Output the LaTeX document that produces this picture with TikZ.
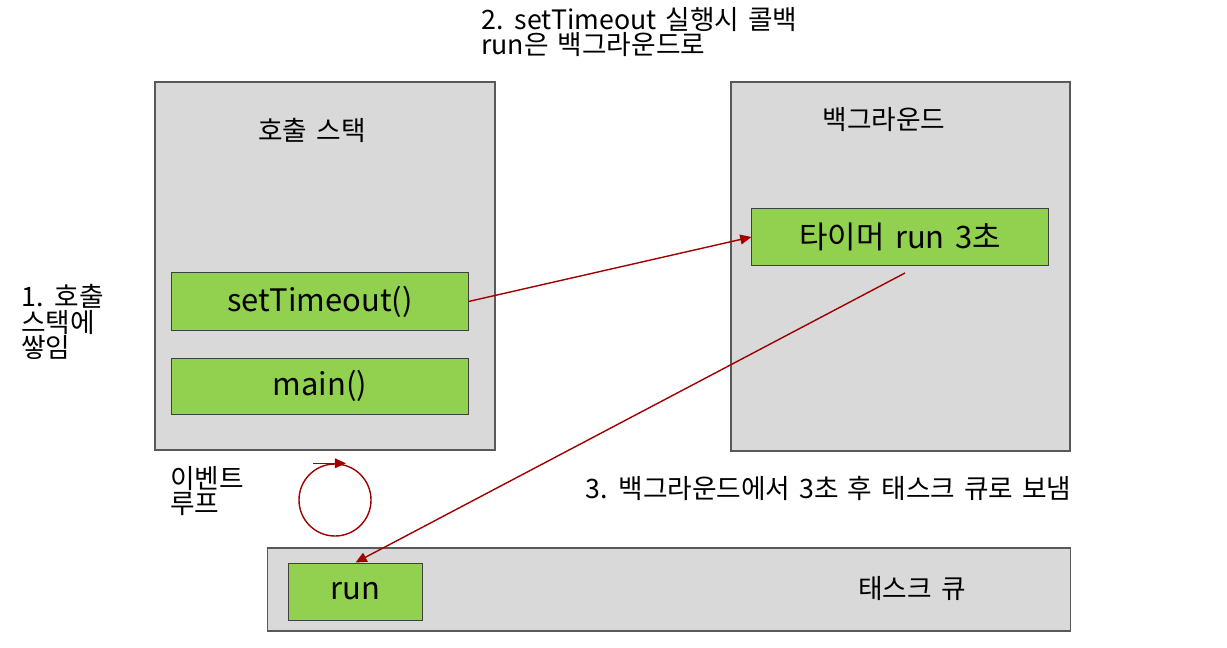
\documentclass[tikz,border=0pt]{standalone}
\usepackage{fontspec}
\setmainfont{Noto Sans CJK KR}[WordSpace=1.5]
\usepackage{xcolor}
\usepackage{tikz}
\usetikzlibrary{arrows.meta,positioning,calc}
\definecolor{areagray}{HTML}{D9D9D9}
\definecolor{framegray}{HTML}{595959}
\definecolor{fngreen}{HTML}{92D050}
\definecolor{flowred}{HTML}{A00000}
\tikzset{
  % large areas
  area/.style={draw=framegray,fill=areagray,line width=0.8pt,inner sep=0pt},
  % function boxes
  fnbox/.style={draw=black!75,fill=fngreen,line width=0.7pt,minimum width=7.4cm,
                minimum height=1.4cm,inner sep=0pt,font=\fontsize{22}{25}\selectfont},
  title/.style={font=\fontsize{19}{21}\selectfont,inner sep=0pt},
  note/.style={font=\fontsize{19}{17}\selectfont,align=left,inner sep=0pt,anchor=west},
  % flow arrows
  flow/.style={draw=flowred,line width=1pt,-{Triangle[length=8pt,width=7pt]}},
}

\begin{document}
\begin{tikzpicture}[x=0.025cm,y=-0.025cm]
\useasboundingbox (0,0) rectangle (1227,648);
% areas
\node[area,minimum width=8.5cm,minimum height=9.2cm] (stack) at (325,266) {};
\node[area,minimum width=8.475cm,minimum height=9.225cm] (bg) at (900.5,266.5) {};
\node[area,minimum width=20.05cm,minimum height=2.075cm] (queue) at (669,589.5) {};
\node[title] (stacktitle) at (312,130) {호출 스택};
\node[title] (bgtitle) at (884,120) {백그라운드};
\node[title] (queuetitle) at (912,588) {태스크 큐};
% boxes
\node[fnbox,minimum height=1.425cm] (settimeout) at (320,301.5) {setTimeout()};
\node[fnbox] (mainfn) at (320,386) {main()};
\node[fnbox] (timer) at (900,237) {타이머 run 3초};
\node[fnbox,minimum width=3.325cm,minimum height=1.425cm] (run) at (355.5,591.5) {run};
% notes
\node[note,font=\fontsize{19}{16}\selectfont] (note2) at (481,32) {2. setTimeout 실행시 콜백\\run은 백그라운드로};
\node[note,font=\fontsize{19}{18}\selectfont] (note1) at (21,322) {1. 호출\\스택에\\쌓임};
\node[note,font=\fontsize{19}{16.5}\selectfont] (looplabel) at (170,491) {이벤트\\루프};
\node[note] (note3) at (585,488) {3. 백그라운드에서 3초 후 태스크 큐로 보냄};
% event loop
\node[circle,draw=flowred,line width=1pt,minimum size=1.8cm,inner sep=0pt] (loop) at (335,500) {};
\draw[flow] ($(loop.north)+(-22,0)$) -- ($(loop.north)+(11,0)$);
% flows
\coordinate (timerout) at (905,273);
\draw[flow] (settimeout.east) -- (timer.west);
\draw[flow] (timerout) -- (run.north);
\end{tikzpicture}
\end{document}
